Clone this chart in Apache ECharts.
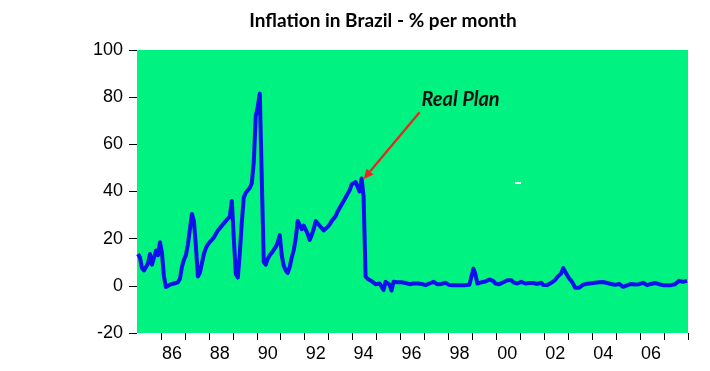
<!DOCTYPE html>
<html><head><meta charset="utf-8">
<script src="https://cdn.jsdelivr.net/npm/echarts@6/dist/echarts.min.js"></script>
<style>html,body{margin:0;padding:0;background:#fff}#chart{width:710px;height:371px}</style>
</head><body><div id="chart"></div>
<script>
// Monthly inflation in Brazil (% per month)
const infl1985 = [13.5, 12, 7.5, 6.5, 7, 9.5, 13.5, 9, 8.5, 15, 13, 18.5];
const infl1986 = [14, 4, -0.5, -1, 0.5, 0.8, 1, 1.5, 1.5, 3, 8, 11];
const infl1987 = [13, 17.5, 24, 30.5, 27.5, 17, 4, 5.5, 9.5, 13.5, 16, 17.5];
const infl1988 = [18.6, 19.5, 20.5, 22, 23.5, 24.4, 25.5, 26.5, 27.5, 28.3, 29.5, 36];
const infl1989 = [20, 5, 3.5, 14, 27, 37.5, 39.5, 40.5, 41.5, 43.5, 52.5, 72];
const infl1990 = [76, 81.5, 82, 10, 9, 11.5, 13, 14, 14.5, 16.5, 18.5, 21.5];
const infl1991 = [13, 8.5, 6.5, 5.5, 8, 12, 15, 20, 27.5, 27, 24, 25.5];
const infl1992 = [25, 22, 19.5, 21.5, 24, 27.5, 27, 25.5, 24.5, 23.5, 23.5, 25];
const infl1993 = [26, 27.5, 28.5, 29.5, 31.5, 33, 34.5, 36, 37.5, 39, 40.5, 43];
const infl1994 = [43.5, 44, 42, 40, 45.5, 38, 4, 3, 2.5, 2, 1.2, 0.7];
const infl1995 = [1.3, 1, 0.5, -1.8, 1.7, 1.3, 0.5, -2, 1.7, 1.2, 1.5, 1];
const infl1996 = [1.5, 1.3, 1.2, 0.8, 0.7, 0.6, 1, 1.3, 1, 1, 0.8, 0.6];
const infl1997 = [0.3, 0.5, 1, 1.3, 1.7, 1.2, 0.7, 0.5, 0.8, 1.1, 1.3, 0.8];
const infl1998 = [0.3, 0.3, 0.2, 0.3, 0.3, 0.3, 0.3, 0.3, 0.3, 0.4, 0.5, 0.7];
const infl1999 = [7.3, 5, 1, 1.2, 1.5, 1.3, 1.8, 2.4, 2.7, 3.1, 2, 1];
const infl2000 = [0.8, 0.7, 1, 1.5, 2.1, 2.4, 2.7, 2.4, 1.5, 0.7, 1, 1.4];
const infl2001 = [1.7, 1.2, 1, 1.7, 1.2, 0.7, 1.2, 1.7, 0.8, 1, 1.3, 0.4];
const infl2002 = [-0.1, 0.3, 0.8, 1.3, 1.8, 2.5, 3.7, 4.5, 5.3, 7.5, 6, 4.5];
const infl2003 = [3.1, 2.2, 0.8, -0.8, -1.6, -0.8, -0.3, 0.5, 0.8, 0.9, 1, 1.1];
const infl2004 = [1.2, 1.3, 1.3, 1.5, 1.7, 1.6, 1.3, 1.2, 1, 0.8, 0.6, 0.4];
const infl2005 = [0.4, 0.8, 0.9, -0.4, -0.2, 0.2, 0.5, 0.8, 1, 0.6, 0.3, 0.7];
const infl2006 = [1.1, 1.3, 0.8, 0.3, 0.5, 0.8, 1, 1.2, 1.1, 0.7, 0.4, 0.3];
const infl2007 = [0.3, 0.3, 0.3, 0.3, 0.5, 0.7, 1.5, 2.1, 1.9, 1.7, 2, 2.1];

const yearSeries = [
  [1985, infl1985], [1986, infl1986], [1987, infl1987], [1988, infl1988],
  [1989, infl1989], [1990, infl1990], [1991, infl1991], [1992, infl1992],
  [1993, infl1993], [1994, infl1994], [1995, infl1995], [1996, infl1996],
  [1997, infl1997], [1998, infl1998], [1999, infl1999], [2000, infl2000],
  [2001, infl2001], [2002, infl2002], [2003, infl2003], [2004, infl2004],
  [2005, infl2005], [2006, infl2006], [2007, infl2007]
];
const xTickLabels = ['86', '88', '90', '92', '94', '96', '98', '00', '02', '04', '06'];
const yTicks = { min: -20, max: 100, interval: 20 };
const titleText = 'Inflation in Brazil - % per month';
const annotationText = 'Real Plan';
const annotationPoint = ['1994-06', 45.2];

const categories = [];
const values = [];
yearSeries.forEach(([yr, arr]) => {
  arr.forEach((v, m) => {
    categories.push(yr + '-' + String(m + 1).padStart(2, '0'));
    values.push(v);
  });
});

const GREEN = 'rgb(0,242,128)';
const chart = echarts.init(document.getElementById('chart'), null, { renderer: 'canvas' });

const option = {
  animation: false,
  backgroundColor: '#ffffff',
  grid: {
    left: 137, right: 22, top: 50, bottom: 38,
    show: true, backgroundColor: GREEN, borderWidth: 0
  },
  xAxis: {
    type: 'category',
    data: categories,
    boundaryGap: true,
    axisLine: { show: false, onZero: false },
    axisTick: {
      show: true, length: 7, inside: false,
      lineStyle: { color: '#000', width: 1 },
      interval: (i, v) => i > 0 && v.endsWith('-01')
    },
    axisLabel: {
      show: true, margin: 12,
      interval: (i, v) => v.endsWith('-06') && xTickLabels.includes(v.slice(2, 4)),
      formatter: v => v.slice(2, 4),
      color: '#000', fontSize: 18, fontFamily: 'Liberation Sans, Arial, sans-serif'
    },
    splitLine: { show: false }
  },
  yAxis: {
    type: 'value',
    min: yTicks.min, max: yTicks.max, interval: yTicks.interval,
    axisLine: { show: false },
    axisTick: { show: true, length: 8, lineStyle: { color: '#000', width: 1 } },
    axisLabel: {
      margin: 14, color: '#000', fontSize: 18,
      fontFamily: 'Liberation Sans, Arial, sans-serif'
    },
    splitLine: { show: false }
  },
  series: [{
    type: 'line',
    data: values,
    showSymbol: false,
    symbol: 'none',
    lineStyle: { color: '#1010EE', width: 4, join: 'round' },
    z: 3
  }]
};
chart.setOption(option);

// Annotation arrow anchored to the data point
const tip = chart.convertToPixel({ seriesIndex: 0 }, annotationPoint);
const dx = 56, dy = -67;
const start = [tip[0] + dx, tip[1] + dy];
const len = Math.sqrt(dx * dx + dy * dy);
const ux = -dx / len, uy = -dy / len; // direction start -> tip
const headLen = 10, headHalf = 4.5;
const base = [tip[0] - headLen * ux, tip[1] - headLen * uy];
const nx = -uy, ny = ux;

chart.setOption({
  graphic: [
    {
      type: 'text', x: 383, y: 21, z: 10,
      style: {
        text: titleText, fill: '#000',
        font: 'bold 19px Lato, "Open Sans", sans-serif',
        align: 'center', verticalAlign: 'middle'
      }
    },
    {
      type: 'text', x: start[0] + 41, y: start[1] - 13, z: 10,
      style: {
        text: annotationText, fill: '#111',
        font: 'italic bold 20px Lato, "Open Sans", sans-serif',
        align: 'center', verticalAlign: 'middle'
      }
    },
    {
      type: 'line', z: 10,
      shape: { x1: start[0], y1: start[1], x2: base[0], y2: base[1] },
      style: { stroke: '#E8261E', lineWidth: 2.2 }
    },
    {
      type: 'polygon', z: 10,
      shape: { points: [
        [tip[0], tip[1]],
        [base[0] + headHalf * nx, base[1] + headHalf * ny],
        [base[0] - headHalf * nx, base[1] - headHalf * ny]
      ] },
      style: { fill: '#E8261E' }
    },
    {
      type: 'rect', z: 10,
      shape: { x: 515, y: 182, width: 6, height: 2 },
      style: { fill: '#ffffff' }
    }
  ]
});
</script>
</body></html>
